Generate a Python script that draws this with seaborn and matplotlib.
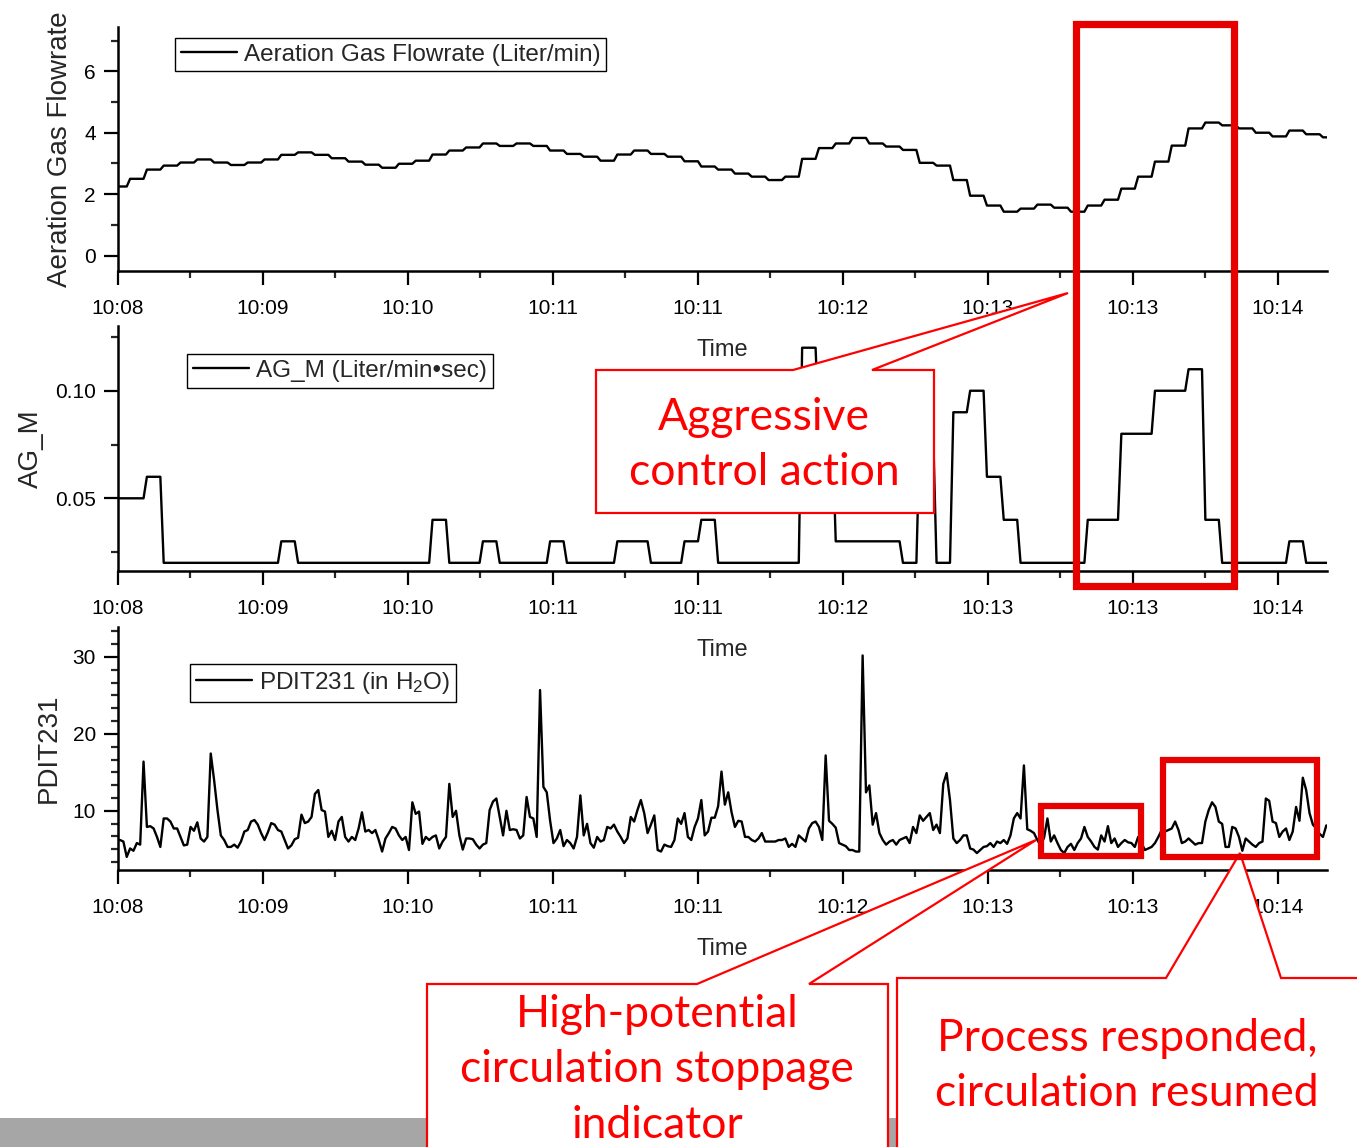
import numpy as np
import pandas as pd
import matplotlib
matplotlib.use("Agg")
import matplotlib.pyplot as plt
from matplotlib.patches import Polygon, Rectangle
from matplotlib.ticker import MultipleLocator, FixedLocator, FormatStrFormatter
import seaborn as sns

# ---------------------------------------------------------------------------
# Data (1 Hz log). Controller outputs are updated every 5 s and held.
# ---------------------------------------------------------------------------
aeration_flow = [2.25, 2.50, 2.80, 2.93, 3.03, 3.13, 3.03, 2.95, 3.03, 3.13,
                 3.28, 3.36, 3.28, 3.17, 3.06, 2.96, 2.86, 2.99, 3.09, 3.29,
                 3.42, 3.52, 3.65, 3.57, 3.65, 3.57, 3.42, 3.31, 3.22, 3.09,
                 3.29, 3.42, 3.31, 3.22, 3.07, 2.90, 2.80, 2.67, 2.57, 2.46,
                 2.57, 3.15, 3.50, 3.65, 3.83, 3.65, 3.55, 3.44, 3.02, 2.93,
                 2.46, 1.95, 1.63, 1.43, 1.53, 1.66, 1.56, 1.43, 1.63, 1.82,
                 2.18, 2.57, 3.06, 3.58, 4.14, 4.33, 4.24, 4.14, 4.00, 3.88,
                 4.07, 3.95, 3.85]

ag_m = [0.05, 0.05, 0.06, 0.02, 0.02, 0.02, 0.02, 0.02, 0.02, 0.02,
        0.03, 0.02, 0.02, 0.02, 0.02, 0.02, 0.02, 0.02, 0.02, 0.04,
        0.02, 0.02, 0.03, 0.02, 0.02, 0.02, 0.03, 0.02, 0.02, 0.02,
        0.03, 0.03, 0.02, 0.02, 0.03, 0.04, 0.02, 0.02, 0.02, 0.02,
        0.02, 0.12, 0.08, 0.03, 0.03, 0.03, 0.03, 0.02, 0.08, 0.02,
        0.09, 0.10, 0.06, 0.04, 0.02, 0.02, 0.02, 0.02, 0.04, 0.04,
        0.08, 0.08, 0.10, 0.10, 0.11, 0.04, 0.02, 0.02, 0.02, 0.02,
        0.03, 0.02, 0.02]

pdit231 = [6.2, 6.2, 6.2, 6.0, 4.0, 5.1, 4.8, 5.8, 5.6, 16.4,
           7.9, 8.0, 7.7, 6.6, 5.3, 9.0, 9.0, 8.6, 7.7, 7.7,
           6.6, 5.5, 5.6, 7.9, 7.4, 8.5, 6.4, 6.0, 6.6, 17.45,
           14.0, 10.1, 6.8, 6.2, 5.3, 5.3, 5.6, 5.2, 6.0, 7.3,
           7.5, 8.6, 8.8, 8.2, 7.1, 6.2, 7.2, 8.4, 8.2, 7.5,
           7.3, 6.2, 5.1, 5.5, 6.3, 6.5, 9.5, 8.4, 8.6, 9.2,
           12.2, 12.7, 10.1, 9.9, 6.6, 7.4, 6.2, 8.6, 9.2, 6.6,
           6.0, 6.6, 6.2, 7.7, 9.8, 7.3, 7.5, 7.1, 7.5, 6.2,
           4.7, 6.4, 7.1, 7.9, 7.7, 6.8, 6.2, 6.6, 4.9, 11.1,
           9.6, 9.9, 5.7, 6.6, 6.2, 6.6, 6.8, 5.1, 6.0, 6.6,
           13.5, 9.2, 10.0, 6.8, 4.95, 6.4, 6.4, 6.3, 5.6, 5.1,
           5.6, 5.8, 10.1, 11.2, 11.6, 9.2, 6.8, 10.0, 7.5, 7.6,
           7.5, 6.4, 6.8, 11.8, 9.2, 9.0, 6.6, 25.7, 13.1, 12.4,
           8.7, 5.8, 6.4, 7.5, 5.4, 6.2, 5.8, 5.1, 6.6, 12.0,
           6.8, 8.3, 5.8, 5.2, 6.6, 6.0, 6.2, 7.9, 7.7, 8.2,
           7.3, 6.6, 5.8, 6.4, 9.2, 8.6, 10.1, 11.4, 9.7, 7.1,
           8.2, 9.4, 4.9, 4.7, 5.6, 5.4, 5.3, 6.2, 9.0, 8.3,
           9.7, 6.6, 6.2, 7.9, 9.0, 11.4, 6.8, 7.3, 9.1, 9.1,
           10.6, 15.1, 10.8, 12.4, 9.8, 7.9, 8.7, 8.6, 6.6, 6.6,
           6.2, 6.0, 6.4, 7.1, 6.0, 6.0, 6.0, 6.0, 6.2, 6.2,
           6.4, 5.3, 5.7, 5.3, 6.8, 6.4, 6.0, 7.7, 8.4, 8.6,
           7.9, 6.2, 17.2, 8.7, 8.3, 7.8, 5.8, 5.6, 5.4, 4.9,
           4.9, 4.7, 4.7, 30.2, 12.4, 13.3, 8.2, 9.7, 7.1, 6.2,
           5.6, 6.0, 6.2, 5.6, 6.2, 6.4, 6.6, 5.8, 7.9, 7.1,
           9.4, 8.7, 9.2, 9.7, 7.5, 8.2, 7.1, 13.5, 14.9, 11.4,
           6.4, 5.8, 6.2, 6.8, 6.8, 5.1, 4.95, 4.5, 4.9, 5.3,
           5.4, 5.8, 5.3, 6.0, 5.8, 6.2, 5.7, 6.8, 9.0, 9.7,
           9.0, 15.9, 7.6, 7.4, 7.1, 6.2, 5.5, 6.5, 9.0, 6.0,
           6.8, 5.8, 4.9, 4.5, 5.3, 5.7, 4.9, 5.8, 6.4, 7.9,
           6.6, 6.0, 5.3, 4.95, 6.8, 6.0, 8.0, 5.8, 6.4, 5.3,
           5.8, 6.2, 5.9, 5.8, 5.3, 6.6, 5.8, 4.9, 5.1, 5.3,
           5.8, 6.6, 7.5, 7.3, 7.5, 7.7, 8.6, 7.5, 5.8, 6.0,
           6.4, 6.0, 5.6, 5.8, 5.8, 8.6, 10.1, 11.1, 10.5, 8.6,
           8.3, 5.3, 5.3, 7.9, 7.7, 6.6, 4.8, 6.4, 6.0, 5.6,
           5.3, 5.8, 6.0, 11.6, 11.3, 8.6, 8.4, 6.6, 7.3, 7.7,
           6.2, 7.3, 10.5, 8.7, 14.3, 12.7, 9.7, 8.2, 7.7, 7.0,
           6.6, 8.1]

tick_labels = ["10:08", "10:09", "10:10", "10:11", "10:11",
               "10:12", "10:13", "10:13", "10:14"]

HOLD = 5          # controller update period, samples
T0 = -1.4         # first logged sample relative to the axis origin, s
TICK_SEC = 43.15  # spacing of the time ticks, s
T_END = 359.8     # right end of the time axis, s

held_flow = np.repeat(aeration_flow, HOLD)
held_agm = np.repeat(ag_m, HOLD)
t_ctrl = T0 + np.arange(held_flow.size)
t_pdit = T0 + np.arange(len(pdit231))

df_ctrl = pd.DataFrame({"t": t_ctrl, "flow": held_flow, "agm": held_agm})
df_pdit = pd.DataFrame({"t": t_pdit, "pdit": pdit231})

major_pos = np.arange(len(tick_labels)) * TICK_SEC
minor_pos = major_pos + TICK_SEC / 2

# ---------------------------------------------------------------------------
sns.set_style("ticks")
plt.rcParams["font.family"] = ["Liberation Sans", "DejaVu Sans"]
plt.rcParams["mathtext.default"] = "regular"

W, H = 1357, 1147
fig = plt.figure(figsize=(W / 100, H / 100), dpi=100)


def px_axes(top, bottom, left=118, right=1327):
    ax = fig.add_axes([left / W, 1 - bottom / H, (right - left) / W, (bottom - top) / H])
    ax.patch.set_alpha(0)  # keep the "Time" label of the panel above visible
    return ax


ax1 = px_axes(26.7, 271)
ax2 = px_axes(326, 571)
ax3 = px_axes(627, 870)

line_kw = dict(color="black", linewidth=1.7, sort=False, estimator=None)
sns.lineplot(data=df_ctrl, x="t", y="flow", ax=ax1, label="Aeration Gas Flowrate (Liter/min)", **line_kw)
sns.lineplot(data=df_ctrl, x="t", y="agm", ax=ax2, label="AG_M (Liter/min\u2022sec)", **line_kw)
sns.lineplot(data=df_pdit, x="t", y="pdit", ax=ax3, label="PDIT231 (in H$_2$O)", **line_kw)


def style(ax, ylim, major, minor, ylabel, legend_xy, fmt=None):
    ax.set_xlim(0, T_END)
    ax.set_ylim(*ylim)
    ax.xaxis.set_major_locator(FixedLocator(major_pos))
    ax.xaxis.set_minor_locator(FixedLocator(minor_pos))
    ax.set_xticklabels(tick_labels)
    ax.yaxis.set_major_locator(MultipleLocator(major))
    ax.yaxis.set_minor_locator(MultipleLocator(minor))
    if fmt:
        ax.yaxis.set_major_formatter(FormatStrFormatter(fmt))
    ax.tick_params(which="major", direction="out", length=10, width=1.6,
                   labelsize=15, colors="black")
    ax.tick_params(axis="x", which="major", pad=10.5)
    ax.tick_params(axis="y", which="major", pad=6)
    ax.tick_params(which="minor", direction="out", length=5, width=1.6)
    sns.despine(ax=ax)
    for s in ("left", "bottom"):
        ax.spines[s].set_linewidth(1.8)
        ax.spines[s].set_color("black")
    ax.set_xlabel("Time", fontsize=17, labelpad=15)
    ax.set_ylabel(ylabel, fontsize=20, labelpad=8)
    leg = ax.legend(loc="upper left", bbox_to_anchor=legend_xy, borderaxespad=0,
                    frameon=True, fancybox=False, edgecolor="black", framealpha=1,
                    fontsize=17.5, handlelength=2.3, handletextpad=0.3, borderpad=0.24)
    leg.get_frame().set_linewidth(1.0)
    for h in leg.get_lines():
        h.set_linewidth(1.7)


style(ax1, (-0.5, 7.45), 2, 1, "Aeration Gas Flowrate", (0.047, 0.955))
style(ax2, (0.0162, 0.1301), 0.05, 0.025, "AG_M", (0.057, 0.886), fmt="%.2f")
style(ax3, (2.3, 33.9), 10, 10 / 6, "PDIT231", (0.0596, 0.848))

# ---------------------------------------------------------------------------
# Annotation layer in figure pixel coordinates
# ---------------------------------------------------------------------------
over = fig.add_axes([0, 0, 1, 1], zorder=10)
over.set_xlim(0, W)
over.set_ylim(H, 0)
over.set_axis_off()

RED_BOX = "#E60000"
RED = "#FF0000"
callout_font = ["Lato", "DejaVu Sans"]
callout_kw = dict(color=RED, fontsize=32, family=callout_font, ha="center",
                  va="center", linespacing=1.43, zorder=3)

over.add_patch(Rectangle((0, 1118), W, 40, facecolor="#A6A6A6", edgecolor="none", zorder=1))

bubbles = [
    [(596, 370), (793, 370), (1068, 293), (872, 370), (934, 370), (934, 513), (596, 513)],
    [(427, 984), (697, 984), (1036, 840), (809, 984), (888, 984), (888, 1170), (427, 1170)],
    [(897, 978), (1166, 978), (1240, 853), (1281, 978), (1380, 978), (1380, 1170), (897, 1170)],
]
for pts in bubbles:
    over.add_patch(Polygon(pts, closed=True, facecolor="white", edgecolor=RED,
                           linewidth=1.6, zorder=2))

over.text(764, 445, "Aggressive\ncontrol action", **callout_kw)
over.text(657, 1070, "High-potential\ncirculation stoppage\nindicator", **callout_kw)
over.text(1127, 1066, "Process responded,\ncirculation resumed", **callout_kw)

for (x0, y0, x1, y1, lw) in [(1075.5, 23.5, 1234, 585.5, 5.2),
                             (1041, 806, 1141, 856, 4.5),
                             (1163, 760, 1317, 857, 4.5)]:
    over.add_patch(Rectangle((x0, y0), x1 - x0, y1 - y0, fill=False,
                             edgecolor=RED_BOX, linewidth=lw, zorder=4))

fig.savefig("out.png", dpi=100)
